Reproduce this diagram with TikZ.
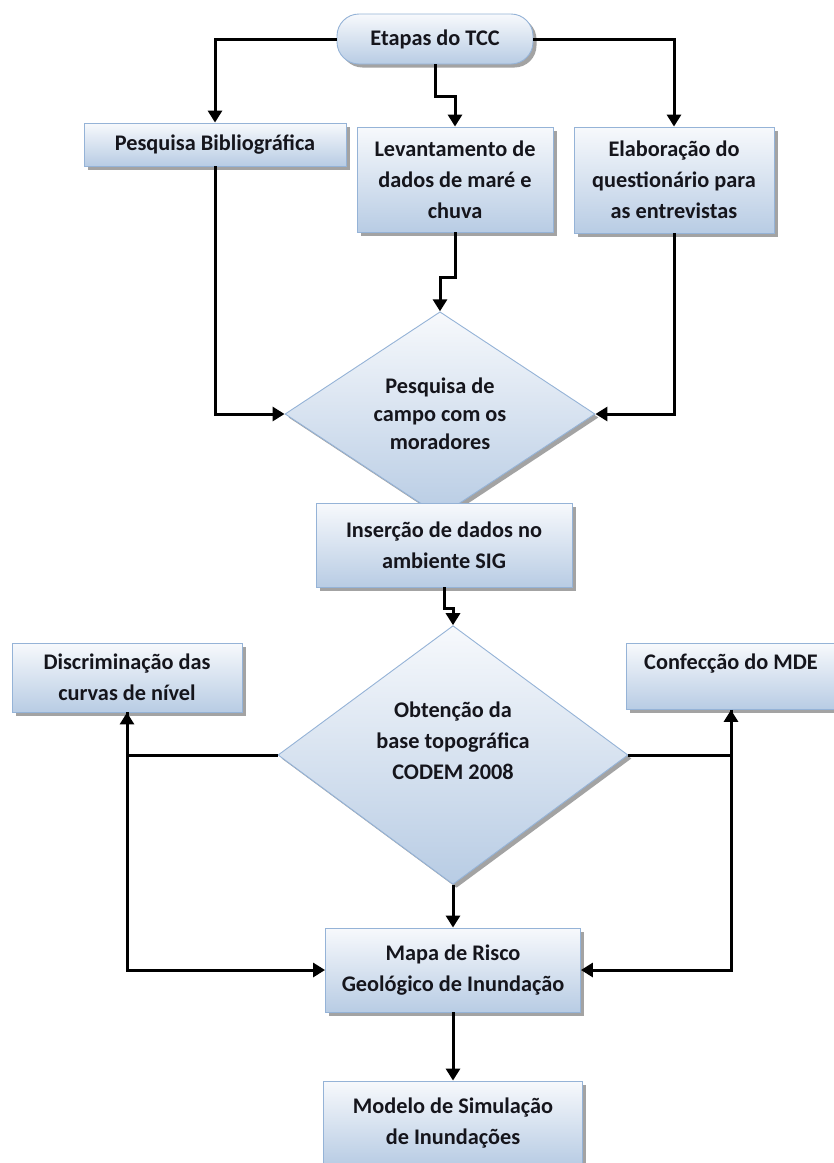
\documentclass[tikz,border=0pt]{standalone}
\usepackage{fontspec}
\setmainfont{Carlito}
\usetikzlibrary{shapes.geometric,arrows.meta,shadows}
\definecolor{boxtop}{HTML}{F7F9FC}
\definecolor{boxbot}{HTML}{B8CCE4}
\definecolor{boxline}{HTML}{95B3D7}
\definecolor{txt}{HTML}{15151C}
\begin{document}
\begin{tikzpicture}[x=1pt,y=-1pt,
  base/.style={draw=boxline, line width=0.9pt, top color=boxtop, bottom color=boxbot,
    drop shadow={shadow xshift=3.5pt, shadow yshift=-3.5pt, fill=black!45, opacity=0.8},
    text=txt, font=\fontsize{22.3}{31}\selectfont\bfseries, align=center, inner sep=0pt},
  box/.style={base, rectangle},
  rbox/.style={base, rectangle, rounded corners=22pt},
  dia/.style={base, diamond},
  arr/.style={line width=3pt, -{Triangle[width=14pt,length=12pt]}}]
\useasboundingbox (0,0) rectangle (834,1163);
\fill[white] (0,0) rectangle (834,1163);

\node[rbox, minimum width=196pt, minimum height=50pt] (top) at (435,39) {Etapas do TCC};
\node[box, minimum width=262pt, minimum height=43pt] (bib) at (215,144.5) {Pesquisa Bibliográfica};
\node[box, minimum width=196pt, minimum height=105pt] (lev) at (455,179.5) {Levantamento de\\dados de maré e\\chuva};
\node[box, minimum width=200pt, minimum height=106pt] (ela) at (674,180) {Elaboração do\\questionário para\\as entrevistas};
\node[dia, minimum width=310pt, minimum height=178pt, font=\fontsize{22.3}{28}\selectfont\bfseries] (d1) at (440,414) {Pesquisa de\\campo com os\\moradores};
\node[box, minimum width=256pt, minimum height=84pt] (ins) at (444,545) {Inserção de dados no\\ambiente SIG};
\node[dia, minimum width=350pt, minimum height=245pt, text depth=28pt] (d2) at (453,755) {Obtenção da\\base topográfica\\CODEM 2008};
\node[box, minimum width=230pt, minimum height=69pt] (disc) at (127,677.5) {Discriminação das\\curvas de nível};
\node[box, minimum width=210pt, inner ysep=4pt, text height=22pt, text depth=36pt, anchor=north] (conf) at (731,643) {Confecção do MDE};
\node[box, minimum width=255pt, minimum height=84pt] (mapa) at (453,970) {Mapa de Risco\\Geológico de Inundação};
\node[box, minimum width=259pt, minimum height=84pt] (mod) at (453,1123) {Modelo de Simulação\\de Inundações};

\draw[arr] (top.west) -| (bib.north);
\draw[arr] (top.east) -| (ela.north);
\draw[arr] (top.south) -- ++(0,32) -| (lev.north);
\draw[arr] (bib.south) |- (d1.west);
\draw[arr] (lev.south) -- ++(0,45) -| (d1.north);
\draw[arr] (ela.south) |- (d1.east);
\draw[arr] (ins.south) -- ++(0,21) -| (d2.north);
\draw[arr] (d2.west) -| (disc.south);
\draw[arr] (disc.south) |- (mapa.west);
\draw[arr] (d2.east) -| (conf.south);
\draw[arr] (conf.south) |- (mapa.east);
\draw[arr] (d2.south) -- (mapa.north);
\draw[arr] (mapa.south) -- (mod.north);
\end{tikzpicture}
\end{document}
